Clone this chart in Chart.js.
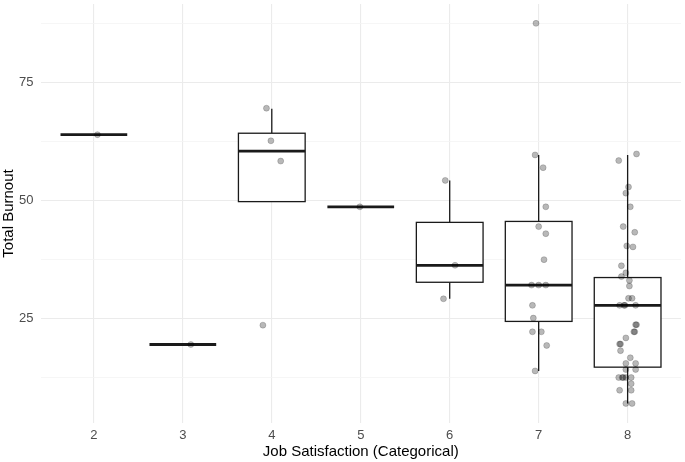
<!DOCTYPE html>
<html>
<head>
<meta charset="utf-8">
<script src="https://cdn.jsdelivr.net/npm/chart.js@4"></script>
<style>
  body { margin: 0; background: #fff; }
  #wrap { width: 685px; height: 462px; }
</style>
</head>
<body>
<div id="wrap"><canvas id="boxChart" width="685" height="462"></canvas></div>
<script>
// Kategorien (Job Satisfaction)
const groups = [2, 3, 4, 5, 6, 7, 8];

// Boxplot-Kennwerte
const whiskerLow  = [63.9, 19.4, 49.7, 48.6, 29.1, 13.8, 6.9];
const q1          = [63.9, 19.4, 49.7, 48.6, 32.6, 24.3, 14.6];
const medians     = [63.9, 19.4, 60.4, 48.6, 36.2, 32.0, 27.7];
const q3          = [63.9, 19.4, 64.2, 48.6, 45.3, 45.5, 33.6];
const whiskerHigh = [63.9, 19.4, 69.4, 48.6, 54.2, 59.6, 59.6];

// Einzelpunkte (gejittert in x)
const pointX = [
  2.04,
  3.09,
  3.94, 3.99, 4.10, 3.90,
  4.99,
  5.95, 6.06, 5.93,
  6.97, 6.96, 7.05, 7.08, 7.00, 7.08, 7.06, 6.92, 7.00, 7.08, 6.93, 6.94, 6.93, 7.03, 7.09, 6.96,
  8.10, 7.90, 8.01, 7.98, 8.03, 7.95, 8.08, 7.99, 8.06, 7.93, 7.98, 7.93, 8.02, 8.02, 8.01, 8.05,
  7.91, 7.96, 7.97, 8.09, 8.10, 8.09, 8.08, 8.07, 7.98, 7.91, 7.92, 7.92, 8.03, 7.98, 8.09,
  7.98, 8.09, 7.90, 7.94, 7.95, 7.98, 8.04, 8.04, 7.91, 8.04, 7.98, 8.05
];
const pointY = [
  63.9,
  19.4,
  69.5, 62.6, 58.3, 23.5,
  48.6,
  54.2, 36.2, 29.1,
  87.5, 59.6, 56.9, 48.6, 44.4, 42.9, 37.4, 32.0, 32.0, 32.0, 27.7, 25.0, 22.1, 22.1, 19.2, 13.8,
  59.8, 58.4, 52.8, 51.5, 48.6, 44.4, 43.2, 40.3, 40.1, 36.1, 34.6, 33.8, 33.0, 31.8, 29.2, 29.2,
  27.7, 27.7, 27.7, 27.7, 23.6, 23.6, 22.1, 22.1, 20.8, 19.5, 19.5, 18.1, 16.6, 15.4, 15.4,
  14.1, 14.1, 12.4, 12.4, 12.4, 12.4, 12.4, 11.1, 9.7, 9.7, 6.9, 6.9
];

const yTicks = [12.5, 25, 37.5, 50, 62.5, 75, 87.5];

// Boxen zeichnen (vor den Punkten)
const boxPlugin = {
  id: "boxes",
  beforeDatasetsDraw(chart) {
    const ctx = chart.ctx;
    const xs = chart.scales.x;
    const ys = chart.scales.y;
    const half = 0.375;
    ctx.save();
    ctx.strokeStyle = "#1a1a1a";
    for (let i = 0; i < groups.length; i++) {
      const xc = xs.getPixelForValue(groups[i]);
      const xl = xs.getPixelForValue(groups[i] - half);
      const xr = xs.getPixelForValue(groups[i] + half);
      const yq1 = ys.getPixelForValue(q1[i]);
      const yq3 = ys.getPixelForValue(q3[i]);
      // Whisker
      ctx.lineWidth = 1.3;
      ctx.beginPath();
      ctx.moveTo(xc, ys.getPixelForValue(whiskerHigh[i]));
      ctx.lineTo(xc, yq3);
      ctx.moveTo(xc, yq1);
      ctx.lineTo(xc, ys.getPixelForValue(whiskerLow[i]));
      ctx.stroke();
      // Box
      if (q3[i] > q1[i]) {
        ctx.fillStyle = "#ffffff";
        ctx.fillRect(xl, yq3, xr - xl, yq1 - yq3);
        ctx.strokeRect(xl, yq3, xr - xl, yq1 - yq3);
      }
      // Median
      ctx.lineWidth = 2.8;
      ctx.beginPath();
      const ym = ys.getPixelForValue(medians[i]);
      ctx.moveTo(xl, ym);
      ctx.lineTo(xr, ym);
      ctx.stroke();
    }
    ctx.restore();
  }
};

const canvas = document.getElementById("boxChart");
new Chart(canvas.getContext("2d"), {
  type: "scatter",
  data: {
    datasets: [{
      label: "Total Burnout",
      data: pointX.map((x, i) => ({ x: x, y: pointY[i] })),
      backgroundColor: "rgba(0, 0, 0, 0.28)",
      borderColor: "rgba(0, 0, 0, 0.18)",
      borderWidth: 1,
      pointRadius: 3,
      pointHoverRadius: 3,
    }]
  },
  options: {
    responsive: false,
    animation: false,
    devicePixelRatio: 1,
    layout: { padding: { top: 2, right: 2, bottom: 0, left: 0 } },
    plugins: { legend: { display: false }, tooltip: { enabled: false } },
    scales: {
      x: {
        type: "linear",
        min: 1.4,
        max: 8.6,
        afterBuildTicks: (s) => { s.ticks = groups.map(v => ({ value: v })); },
        afterFit: (s) => { s.height = 39; s.paddingLeft = 0; s.paddingRight = 0; },
        grid: { color: "#ebebeb", lineWidth: 1.1, drawTicks: false },
        border: { display: false },
        ticks: { color: "#4d4d4d", font: { family: "Liberation Sans", size: 13 }, padding: 5 },
        title: {
          display: true,
          text: "Job Satisfaction (Categorical)",
          color: "#000",
          font: { family: "Liberation Sans", size: 15 },
          padding: { top: 0, bottom: 1 },
        },
      },
      y: {
        min: 2.76,
        max: 91.6,
        afterBuildTicks: (s) => { s.ticks = yTicks.map(v => ({ value: v })); },
        afterFit: (s) => { s.width = 40.5; s.paddingTop = 0; s.paddingBottom = 0; },
        grid: {
          color: (c) => (c.tick && c.tick.value % 25 === 0) ? "#ebebeb" : "#f4f4f4",
          lineWidth: (c) => (c.tick && c.tick.value % 25 === 0) ? 1.1 : 0.8,
          drawTicks: false,
        },
        border: { display: false },
        ticks: {
          color: "#4d4d4d",
          font: { family: "Liberation Sans", size: 13 },
          padding: 7,
          callback: (v) => (v % 25 === 0 ? v : ""),
        },
        title: {
          display: true,
          text: "Total Burnout",
          color: "#000",
          font: { family: "Liberation Sans", size: 15 },
          padding: { top: 0, bottom: 0 },
        },
      }
    }
  },
  plugins: [boxPlugin],
});
</script>
</body>
</html>
